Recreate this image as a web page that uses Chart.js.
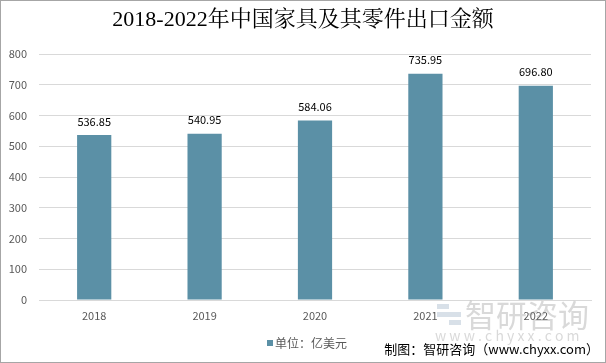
<!DOCTYPE html>
<html>
<head>
<meta charset="utf-8">
<script src="https://cdn.jsdelivr.net/npm/chart.js@4"></script>
<style>
  html, body { margin: 0; padding: 0; background: #fff; }
  #wrap { width: 604px; height: 361px; border: 1px solid #a6a6a6; position: relative; }
</style>
</head>
<body>
<div id="wrap"><canvas id="chart" width="604" height="361"></canvas></div>
<script>
// chart data
const years = ['2018', '2019', '2020', '2021', '2022'];
const exportValues = [536.85, 540.95, 584.06, 735.95, 696.80];
const yTicks = [0, 100, 200, 300, 400, 500, 600, 700, 800];

const barColor = '#5b90a6';
const sansFont = '"Microsoft YaHei", "Noto Sans CJK SC", "DejaVu Sans", sans-serif';
const serifFont = '"Liberation Serif", "Noto Serif CJK SC", "Noto Sans CJK SC", serif';

// draws title, value labels, legend, watermark and source
const extras = {
  id: 'extras',
  afterDatasetsDraw(chart) {
    const ctx = chart.ctx;
    const meta = chart.getDatasetMeta(0);
    ctx.save();
    ctx.fillStyle = '#000';
    ctx.font = '11px ' + sansFont;
    ctx.textAlign = 'center';
    ctx.textBaseline = 'bottom';
    meta.data.forEach((bar, i) => {
      ctx.fillText(exportValues[i].toFixed(2), bar.x, bar.y - 8);
    });
    ctx.restore();
  },
  afterDraw(chart) {
    const ctx = chart.ctx;
    ctx.save();
    // title
    ctx.fillStyle = '#000';
    ctx.font = '22px ' + serifFont;
    ctx.textAlign = 'center';
    ctx.textBaseline = 'middle';
    ctx.fillText('2018-2022年中国家具及其零件出口金额', 302, 19);

    // watermark
    ctx.globalAlpha = 0.3;
    ctx.fillStyle = '#7f98b2';
    ctx.fillRect(436, 303, 12, 5);
    ctx.fillRect(436, 311, 24, 5);
    ctx.fillRect(448, 319, 12, 5);
    ctx.fillStyle = '#808080';
    ctx.font = '31px ' + sansFont;
    ctx.textAlign = 'left';
    ctx.fillText('智研咨询', 464, 314);
    ctx.font = '14px ' + sansFont;
    ctx.fillText('w w w . c h y x x . c o m', 434, 335);
    ctx.globalAlpha = 1;

    // legend
    ctx.fillStyle = barColor;
    ctx.fillRect(266, 339, 6, 6);
    ctx.fillStyle = '#595959';
    ctx.font = '12px ' + sansFont;
    ctx.textBaseline = 'middle';
    ctx.fillText('单位：亿美元', 274, 342);

    // source
    ctx.fillStyle = '#000';
    ctx.font = '13px ' + sansFont;
    ctx.textAlign = 'right';
    ctx.fillText('制图：智研咨询（www.chyxx.com）', 598, 348);
    ctx.restore();
  }
};

new Chart(document.getElementById('chart'), {
  type: 'bar',
  data: {
    labels: years,
    datasets: [{
      data: exportValues,
      backgroundColor: barColor,
      barPercentage: 0.62,
      categoryPercentage: 0.5
    }]
  },
  options: {
    responsive: false,
    animation: false,
    layout: { padding: { top: 53, right: 14, bottom: 32, left: 0 } },
    plugins: {
      legend: { display: false },
      title: { display: false },
      tooltip: { enabled: false }
    },
    scales: {
      x: {
        grid: { display: false, drawTicks: false },
        border: { color: '#d9d9d9' },
        ticks: { color: '#595959', font: { size: 11, family: sansFont }, padding: 9 },
        afterFit: s => { s.height = 30; }
      },
      y: {
        min: 0,
        max: 800,
        afterBuildTicks: s => { s.ticks = yTicks.map(v => ({ value: v })); },
        grid: { color: '#d9d9d9', drawTicks: false },
        border: { display: false },
        ticks: { color: '#595959', font: { size: 11, family: sansFont }, padding: 12 },
        afterFit: s => { s.width = 38; }
      }
    }
  },
  plugins: [extras]
});
</script>
</body>
</html>
